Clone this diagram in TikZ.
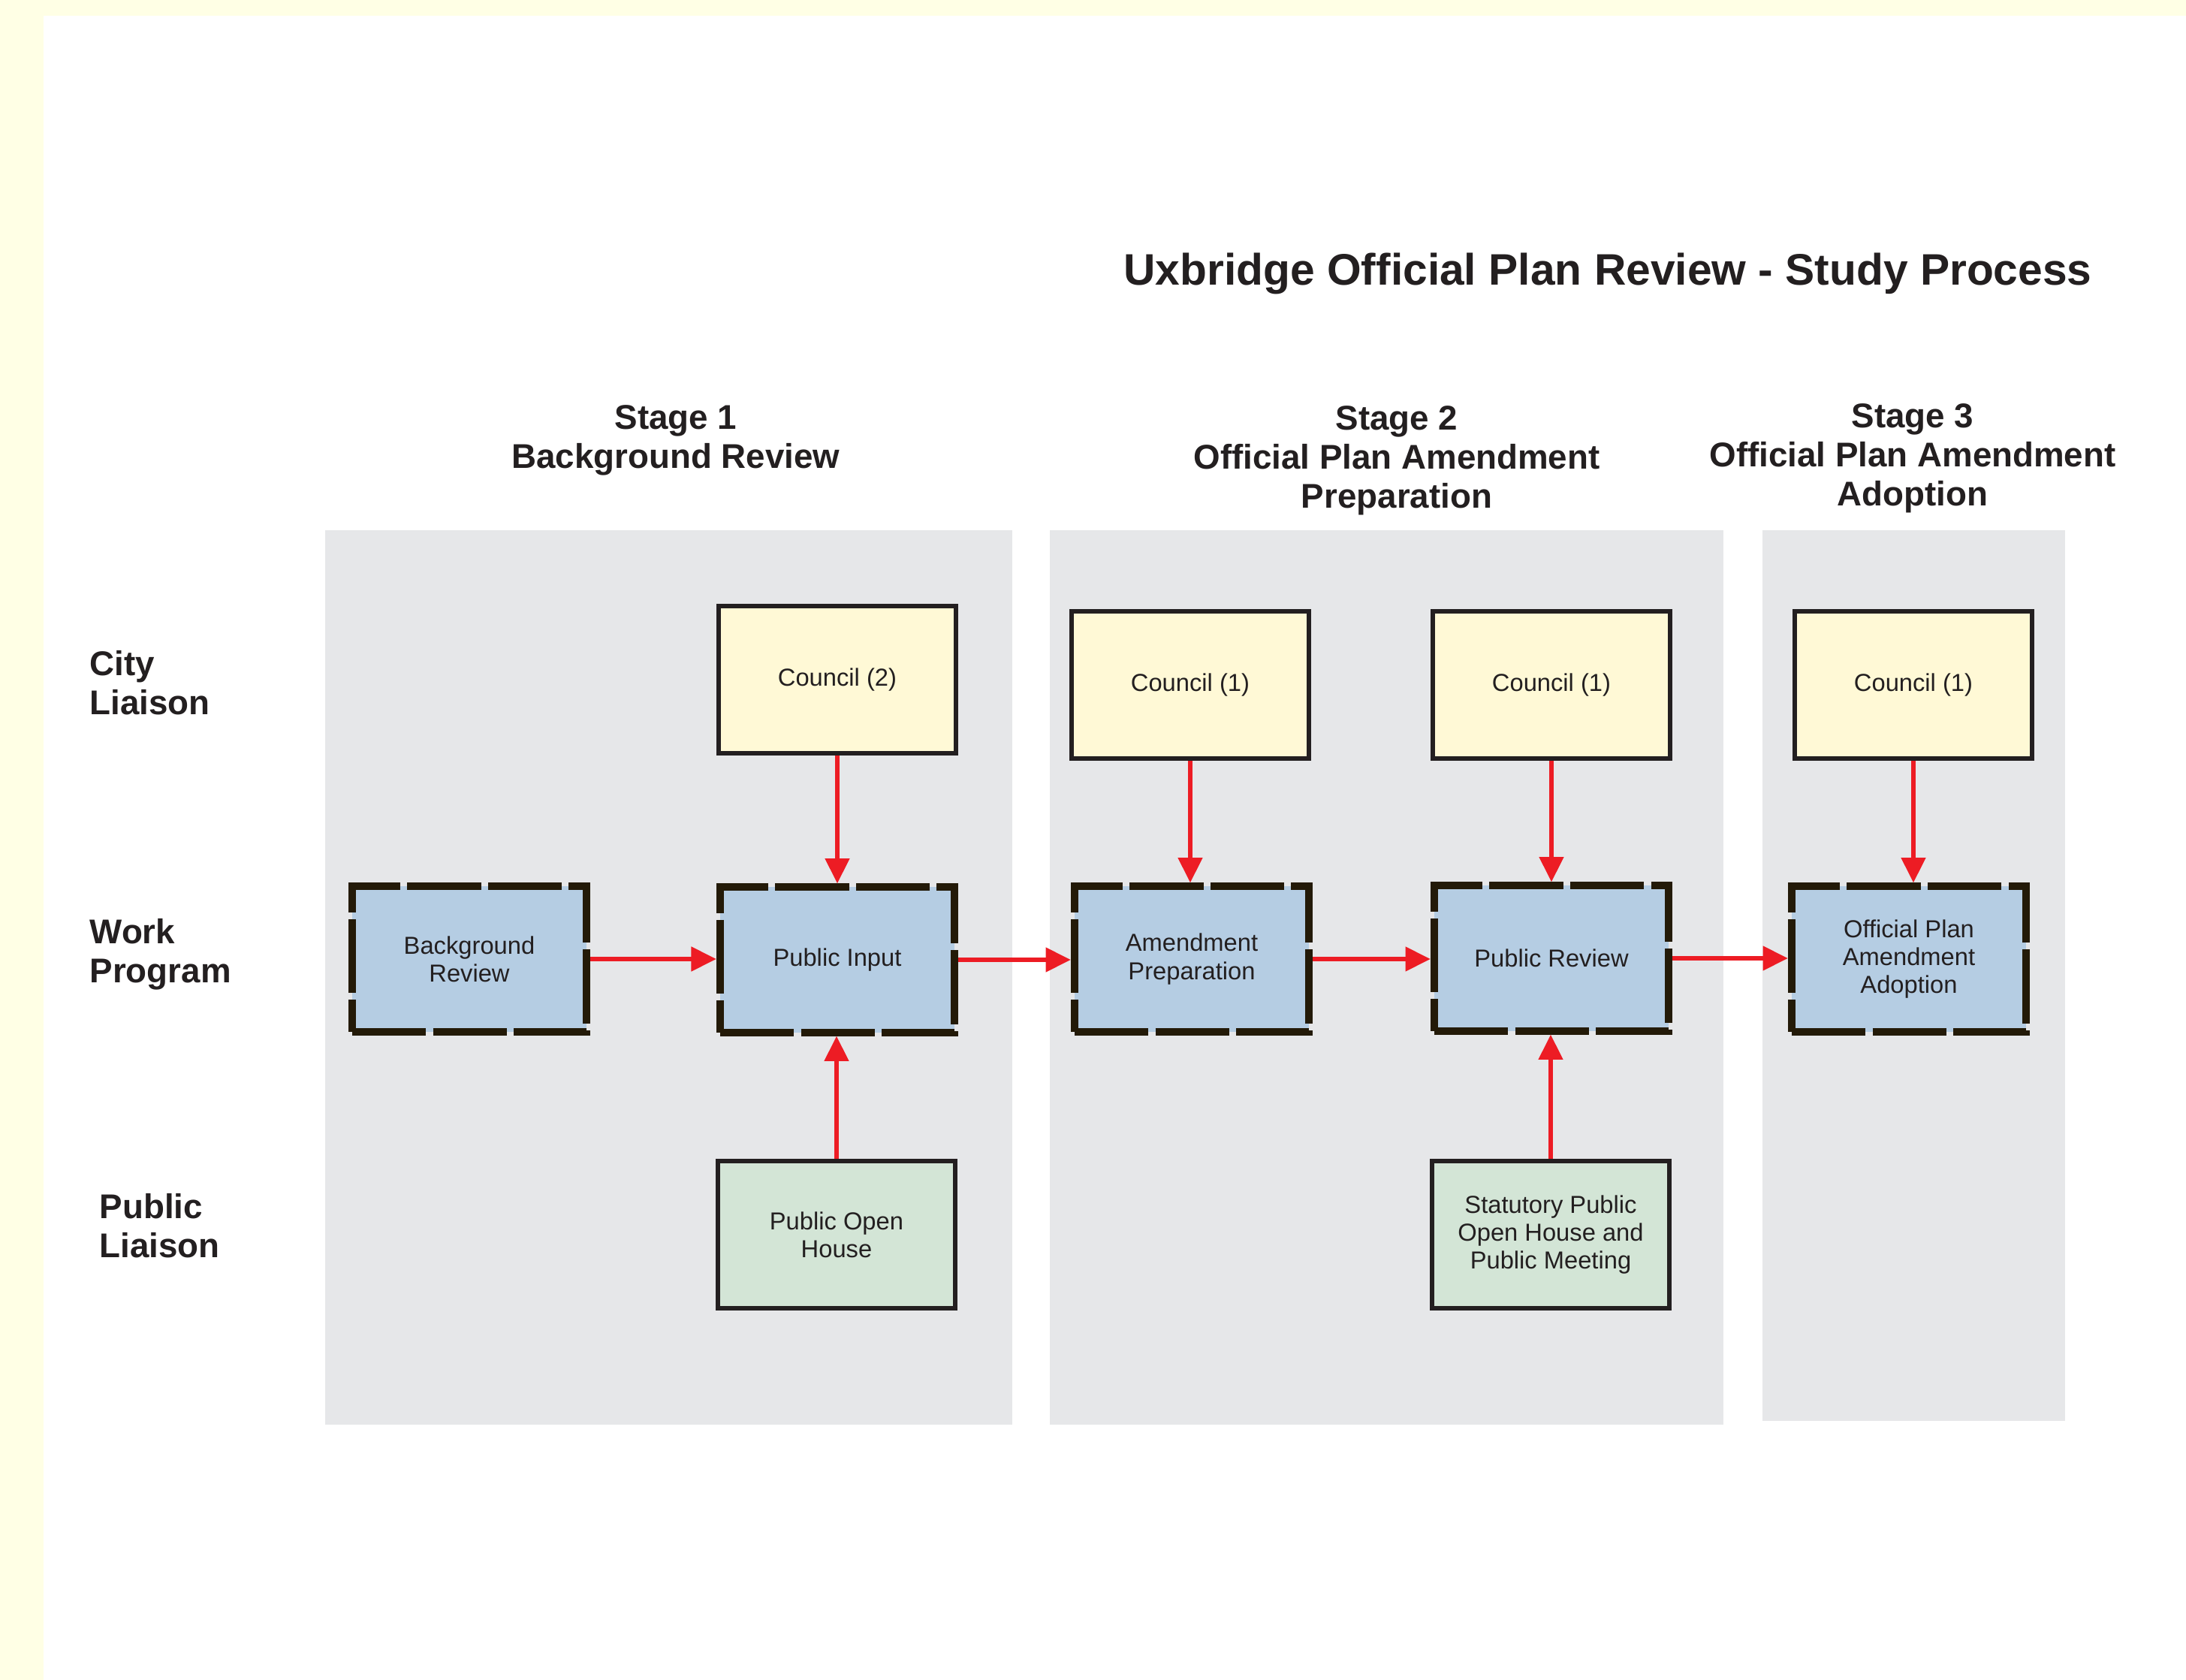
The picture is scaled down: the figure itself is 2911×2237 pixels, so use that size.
\documentclass[tikz,border=0pt]{standalone}
\usepackage{fontspec}
\setmainfont{Liberation Sans}
\usetikzlibrary{arrows.meta}
\definecolor{margin}{RGB}{255,255,229}
\definecolor{panel}{RGB}{230,231,233}
\definecolor{council}{RGB}{255,249,214}
\definecolor{work}{RGB}{181,205,227}
\definecolor{public}{RGB}{211,229,214}
\definecolor{arrowred}{RGB}{237,28,36}
\definecolor{ink}{RGB}{35,31,32}
\definecolor{frame}{RGB}{35,26,8}
\begin{document}
\begin{tikzpicture}[x=0.01cm,y=-0.01cm,
  box/.style={draw=ink,line width=1.7pt,inner sep=0pt,
    minimum width=3.16cm,minimum height=1.95cm,align=center,
    font=\fontsize{9.3}{10.6}\selectfont,text=ink},
  citybox/.style={box,fill=council},
  publicbox/.style={box,fill=public},
  workbox/.style={box,fill=work,draw=frame,line width=2.85pt,
    dash pattern=on 28pt off 2.6pt,minimum width=3.12cm,minimum height=1.93cm},
  flow/.style={draw=arrowred,line width=1.7pt,-{Triangle[length=9.5pt,width=9pt]}},
  heading/.style={align=center,font=\fontsize{13}{14.8}\selectfont\bfseries,text=ink},
  rowlabel/.style={heading,align=left,anchor=west,inner sep=0pt}]
  \useasboundingbox (0,0) rectangle (2911,2237);
  % page and stage panels
  \fill[margin] (0,0) rectangle (2911,2237);
  \fill[white] (58,21) rectangle (2911,2237);
  \fill[panel] (433,706) rectangle (1348,1897);
  \fill[panel] (1398,706) rectangle (2295,1897);
  \fill[panel] (2347,706) rectangle (2750,1892);

  \node[font=\fontsize{16.7}{20}\selectfont\bfseries,text=ink] (title) at (2141,364)
    {Uxbridge Official Plan Review - Study Process};

  \node[heading] (s1) at (900,586) {Stage 1\\Background Review};
  \node[heading] (s2) at (1860,613) {Stage 2\\Official Plan Amendment\\Preparation};
  \node[heading] (s3) at (2547,610) {Stage 3\\Official Plan Amendment\\Adoption};

  \node[rowlabel] (city) at (119,909) {City\\Liaison};
  \node[rowlabel] (prog) at (119,1271) {Work\\Program};
  \node[rowlabel] (publ) at (132,1632) {Public\\Liaison};

  % stage 1
  \node[citybox] (c2) at (1115,905) {Council (2)};
  \node[workbox] (bgr) at (625,1277) {Background\\Review};
  \node[workbox] (pin) at (1115,1278) {Public Input};
  \node[publicbox] (poh) at (1114,1644) {Public Open\\House};
  % stage 2
  \node[citybox] (c1a) at (1585,912) {Council (1)};
  \node[workbox] (amp) at (1587,1277) {Amendment\\Preparation};
  \node[citybox] (c1b) at (2066,912) {Council (1)};
  \node[workbox] (prv) at (2066,1276) {Public Review};
  \node[publicbox] (spm) at (2065,1644) {Statutory Public\\Open House and\\Public Meeting};
  % stage 3
  \node[citybox] (c1c) at (2548,912) {Council (1)};
  \node[workbox] (opa) at (2542,1277) {Official Plan\\Amendment\\Adoption};

  \draw[flow] (bgr.east) -- (bgr.east -| pin.west);
  \draw[flow] (pin.east) -- (pin.east -| amp.west);
  \draw[flow] (amp.east) -- (amp.east -| prv.west);
  \draw[flow] (prv.east) -- (prv.east -| opa.west);
  \draw[flow] (c2.south) -- (c2.south |- pin.north);
  \draw[flow] (poh.north) -- (poh.north |- pin.south);
  \draw[flow] (c1a.south) -- (c1a.south |- amp.north);
  \draw[flow] (c1b.south) -- (c1b.south |- prv.north);
  \draw[flow] (spm.north) -- (spm.north |- prv.south);
  \draw[flow] (c1c.south) -- (c1c.south |- opa.north);
\end{tikzpicture}
\end{document}
